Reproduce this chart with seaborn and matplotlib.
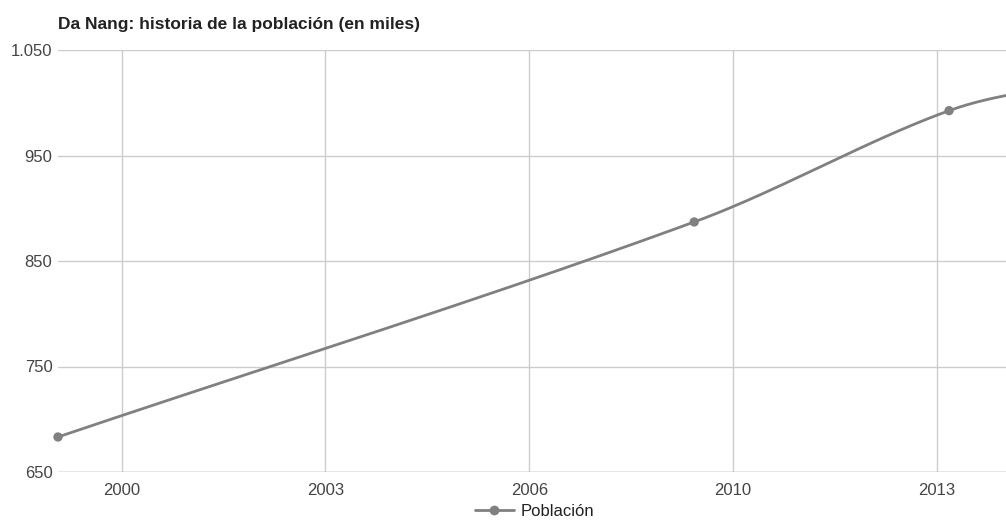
import numpy as np
import pandas as pd
import seaborn as sns
import matplotlib
matplotlib.use("Agg")
import matplotlib.pyplot as plt
from matplotlib.lines import Line2D
from matplotlib.ticker import FuncFormatter

# Data (thousands of inhabitants)
anios = [1998.94, 2009.55, 2013.8, 2016.0]
poblacion = [683.2, 887.0, 992.5, 1020.0]
serie = "Población"
titulo = "Da Nang: historia de la población (en miles)"
xtick_pos = [2000.0, 2003.4, 2006.8, 2010.2, 2013.6]
xtick_lab = ["2000", "2003", "2006", "2010", "2013"]
ytick_vals = [650, 750, 850, 950, 1050]

sns.set_theme(style="white")
plt.rcParams['font.family'] = ['Liberation Sans', 'DejaVu Sans']

# smooth (cubic Hermite) rendering of the curve through the data points
t = np.array(anios); v = np.array(poblacion)
m = np.zeros_like(v)
m[0] = (v[1] - v[0]) / (t[1] - t[0])
m[-1] = (v[-1] - v[-2]) / (t[-1] - t[-2])
for i in range(1, len(t) - 1):
    m[i] = (v[i + 1] - v[i - 1]) / (t[i + 1] - t[i - 1])
xs, ys = [], []
for i in range(len(t) - 1):
    h = t[i + 1] - t[i]
    s = np.linspace(0, 1, 80)
    h00 = 2*s**3 - 3*s**2 + 1; h10 = s**3 - 2*s**2 + s
    h01 = -2*s**3 + 3*s**2; h11 = s**3 - s**2
    xs.append(t[i] + s*h)
    ys.append(h00*v[i] + h10*h*m[i] + h01*v[i+1] + h11*h*m[i+1])
curve = pd.DataFrame({"x": np.concatenate(xs), "y": np.concatenate(ys)})
pts = pd.DataFrame({"x": anios, "y": poblacion})

fig = plt.figure(figsize=(10.06, 5.2), dpi=100)
ax = fig.add_axes([58/1006, 48/520, 1 - 58/1006, 422/520])

color = "#808080"
sns.lineplot(data=curve, x="x", y="y", ax=ax, color=color, linewidth=2, sort=False, zorder=3)
sns.scatterplot(data=pts, x="x", y="y", ax=ax, color=color, s=45, edgecolor="none", zorder=4)
for coll in ax.collections:
    coll.set_clip_on(False)

ax.set_xlim(1998.94, 2014.75)
ax.set_ylim(650, 1050)
ax.set_xticks(xtick_pos)
ax.set_xticklabels(xtick_lab)
ax.set_yticks(ytick_vals)
ax.yaxis.set_major_formatter(FuncFormatter(lambda val, p: f"{int(val):,}".replace(",", ".")))
ax.grid(True, color="#cccccc", linewidth=1)
for sp in ax.spines.values():
    sp.set_visible(False)
ax.axhline(650, color="#aaaaaa", linewidth=1, zorder=2)
ax.tick_params(axis="both", length=0, labelsize=12, labelcolor="#444444")
ax.tick_params(axis="x", pad=8)
ax.tick_params(axis="y", pad=4)
ax.set_xlabel(""); ax.set_ylabel("")

fig.text(58/1006, 1 - 25/520, titulo, fontsize=12.5, fontweight="bold", color="#222222", va="center", ha="left")

handle = Line2D([], [], color=color, linewidth=2, marker="o", markersize=6)
fig.legend([handle], [serie], loc="center", bbox_to_anchor=(535/1006, 1 - 511/520),
           frameon=False, fontsize=12, handlelength=2.3, handletextpad=0.45,
           labelcolor="#222222", borderpad=0)

fig.savefig("out.png", dpi=100)
